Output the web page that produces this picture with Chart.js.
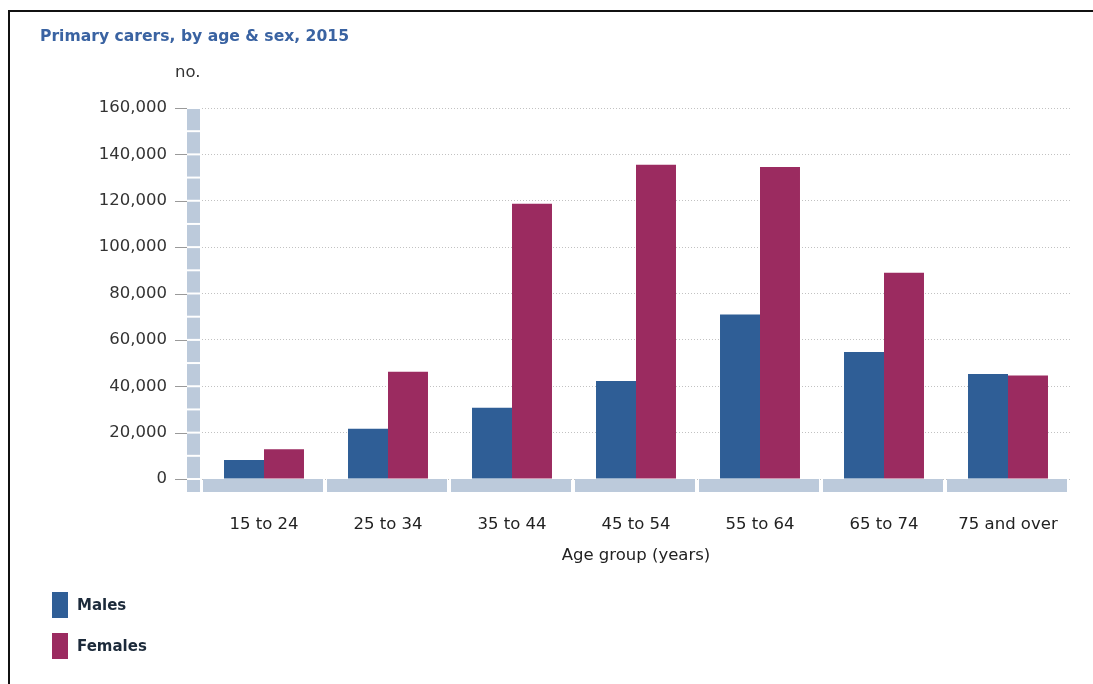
<!DOCTYPE html>
<html>
<head>
<meta charset="utf-8">
<script src="https://cdn.jsdelivr.net/npm/chart.js@4/dist/chart.umd.min.js"></script>
<style>
  html, body { margin: 0; padding: 0; background: #fff; }
  body { width: 1093px; height: 684px; position: relative; overflow: hidden; font-family: "DejaVu Sans", Verdana, sans-serif; }
  #frame { position: absolute; left: 8px; top: 10px; right: -4px; bottom: -4px; border-top: 2px solid #111; border-left: 2px solid #111; }
  #wrap { position: absolute; left: 0; top: 0; width: 1093px; height: 684px; }
  #title { position: absolute; left: 40px; top: 27px; font-size: 15.6px; font-weight: bold; color: #3a63a2; white-space: nowrap; }
  #unit { position: absolute; left: 175px; top: 62px; font-size: 16.5px; color: #333; }
  #legend { position: absolute; left: 52px; top: 592px; }
  .item { display: flex; align-items: center; height: 26px; margin-bottom: 15px; }
  .swatch { width: 16px; height: 26px; margin-right: 9px; }
  .item span { font-size: 15px; font-weight: bold; color: #1c2a3a; }
</style>
</head>
<body>
<div id="frame"></div>
<div id="wrap"><canvas id="chart" width="1093" height="684"></canvas></div>
<div id="title">Primary carers, by age &amp; sex, 2015</div>
<div id="unit">no.</div>
<div id="legend"></div>
<script>
const ageGroups = ['15 to 24', '25 to 34', '35 to 44', '45 to 54', '55 to 64', '65 to 74', '75 and over'];
const males = [8200, 21700, 30700, 42300, 70900, 54800, 45300];
const females = [12800, 46200, 118700, 135500, 134600, 89000, 44600];
const yMax = 160000;
const yStep = 20000;

const maleColour = '#2f5e96';
const femaleColour = '#9b2b60';
const bandColour = '#bccadb';

// light-blue axis bands, split into blocks, plus small tick dashes
const axisBands = {
  id: 'axisBands',
  beforeDatasetsDraw(chart) {
    const { ctx, chartArea, scales } = chart;
    const y = scales.y, x = scales.x;
    const zero = y.getPixelForValue(0);
    const bandL = chartArea.left - 15, bandR = chartArea.left - 2;
    ctx.save();
    // vertical band, one block per half step
    for (let v = 0; v < yMax; v += yStep / 2) {
      const y0 = y.getPixelForValue(v + yStep / 2), y1 = y.getPixelForValue(v);
      ctx.fillStyle = bandColour;
      ctx.fillRect(bandL, y0 + 1, bandR - bandL, y1 - y0 - 2);
    }
    ctx.fillRect(bandL, zero + 1, bandR - bandL, 12);
    // bottom band, one block per category
    const step = x.getPixelForValue(1) - x.getPixelForValue(0);
    ageGroups.forEach((g, i) => {
      const cx = x.getPixelForValue(i);
      ctx.fillRect(cx - step / 2 + 1, zero, step - 4, 13);
    });
    // tick dashes
    ctx.strokeStyle = '#9a9a9a';
    ctx.lineWidth = 1;
    for (let v = 0; v <= yMax; v += yStep) {
      const py = Math.round(y.getPixelForValue(v)) + 0.5;
      ctx.beginPath();
      ctx.moveTo(bandL - 12, py);
      ctx.lineTo(bandL, py);
      ctx.stroke();
    }
    ctx.restore();
  }
};

new Chart(document.getElementById('chart').getContext('2d'), {
  type: 'bar',
  data: {
    labels: ageGroups,
    datasets: [
      { label: 'Males', data: males, backgroundColor: maleColour },
      { label: 'Females', data: females, backgroundColor: femaleColour }
    ]
  },
  options: {
    responsive: false,
    animation: false,
    layout: { padding: { left: 0, right: 23, top: 108, bottom: 0 } },
    datasets: { bar: { categoryPercentage: 0.645, barPercentage: 1.0 } },
    plugins: {
      legend: { display: false },
      tooltip: { enabled: false },
      title: { display: false }
    },
    scales: {
      x: {
        // invisible tick marks push the labels below the band
        grid: { display: true, drawOnChartArea: false, drawTicks: true, tickLength: 36, color: 'rgba(0,0,0,0)' },
        border: { display: false },
        ticks: { color: '#222', font: { family: 'DejaVu Sans', size: 16.5 }, padding: 0, maxRotation: 0, autoSkip: false },
        title: {
          display: true, text: 'Age group (years)', color: '#222',
          font: { family: 'DejaVu Sans', size: 16.5 },
          padding: { top: 0, bottom: 118 }
        },
        afterFit(scale) { scale.height = 205; }
      },
      y: {
        min: 0, max: yMax,
        grid: { color: '#c2c2c2', drawTicks: false, lineWidth: 1 },
        border: { display: false, dash: [1, 2] },
        ticks: {
          stepSize: yStep, color: '#333', padding: 35,
          font: { family: 'DejaVu Sans', size: 16.5 },
          callback: v => v.toLocaleString('en-US')
        },
        afterFit(scale) { scale.width = 202; }
      }
    }
  },
  plugins: [axisBands]
});

// legend built from the same series
const legend = document.getElementById('legend');
[['Males', maleColour], ['Females', femaleColour]].forEach(([name, colour]) => {
  const row = document.createElement('div');
  row.className = 'item';
  row.innerHTML = '<div class="swatch" style="background:' + colour + '"></div><span>' + name + '</span>';
  legend.appendChild(row);
});
</script>
</body>
</html>
